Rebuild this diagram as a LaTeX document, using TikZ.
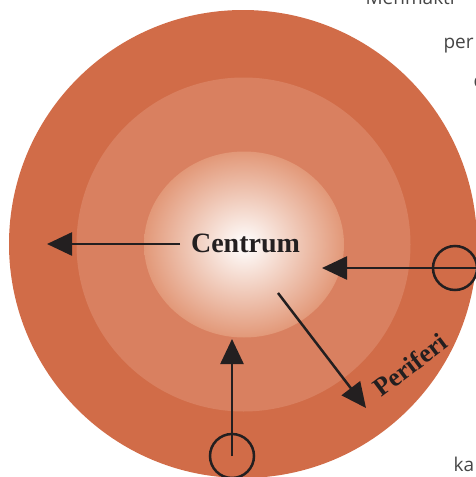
\documentclass[tikz,border=0pt]{standalone}
\usepackage{fontspec}
\newfontfamily\pagefont{Open Sans}
\newfontfamily\labelfont{Liberation Serif}
\usetikzlibrary{arrows.meta}
\definecolor{outerring}{RGB}{209,108,72}
\definecolor{midring}{RGB}{217,128,96}
\definecolor{innerrim}{RGB}{226,152,120}
\definecolor{ink}{RGB}{35,31,32}
\definecolor{pagetext}{RGB}{70,70,70}
\tikzset{
  flow/.style={draw=ink, line width=2.5pt, -{Triangle[length=25pt,width=23pt]}},
  ringmark/.style={circle, draw=ink, line width=2.5pt, minimum size=44pt, inner sep=0pt},
  zonelabel/.style={font=\labelfont\fontsize{26}{30}\selectfont\bfseries, text=ink, inner sep=1pt},
  pagefrag/.style={font=\pagefont\fontsize{19}{22}\selectfont, text=pagetext, anchor=base west}
}
\begin{document}
\begin{tikzpicture}[x=1pt,y=-1pt]
\useasboundingbox (0,0) rectangle (476,477);
\clip (0,0) rectangle (476,477);
% rings
\fill[outerring] (243,244) circle (234);
\fill[midring] (243.5,244.5) circle (167);
\shade[inner color=white, outer color=innerrim] (244,244.5) ellipse [x radius=100, y radius=93];
% surrounding page text fragments
\node[pagefrag] (t1) at (362,4) {Menmakti};
\node[pagefrag] (t2) at (440,48) {per};
\node[pagefrag] (t3) at (470,87) {d};
\node[pagefrag] (t4) at (450,471) {ka};
% labels
\node[zonelabel, font=\labelfont\fontsize{28}{32}\selectfont\bfseries] (centrum) at (245.5,243) {Centrum};
\node[zonelabel, rotate=37] (periferi) at (410,365) {Periferi};
% markers
\node[ringmark] (rmark) at (455,268) {};
\node[ringmark] (bmark) at (232,456) {};
\coordinate (lstart) at (180,244);
\coordinate (rstart) at (478,268);
\coordinate (rend) at (322,268);
\coordinate (lend) at (47,244);
\coordinate (bend) at (232,339);
\coordinate (dstart) at (278,293);
\coordinate (dend) at (366,408);
% arrows
\draw[flow] (lstart) -- (lend);
\draw[flow] (rstart) -- (rend);
\draw[flow] (bmark.center) -- (bend);
\draw[flow] (dstart) -- (dend);
\end{tikzpicture}
\end{document}
